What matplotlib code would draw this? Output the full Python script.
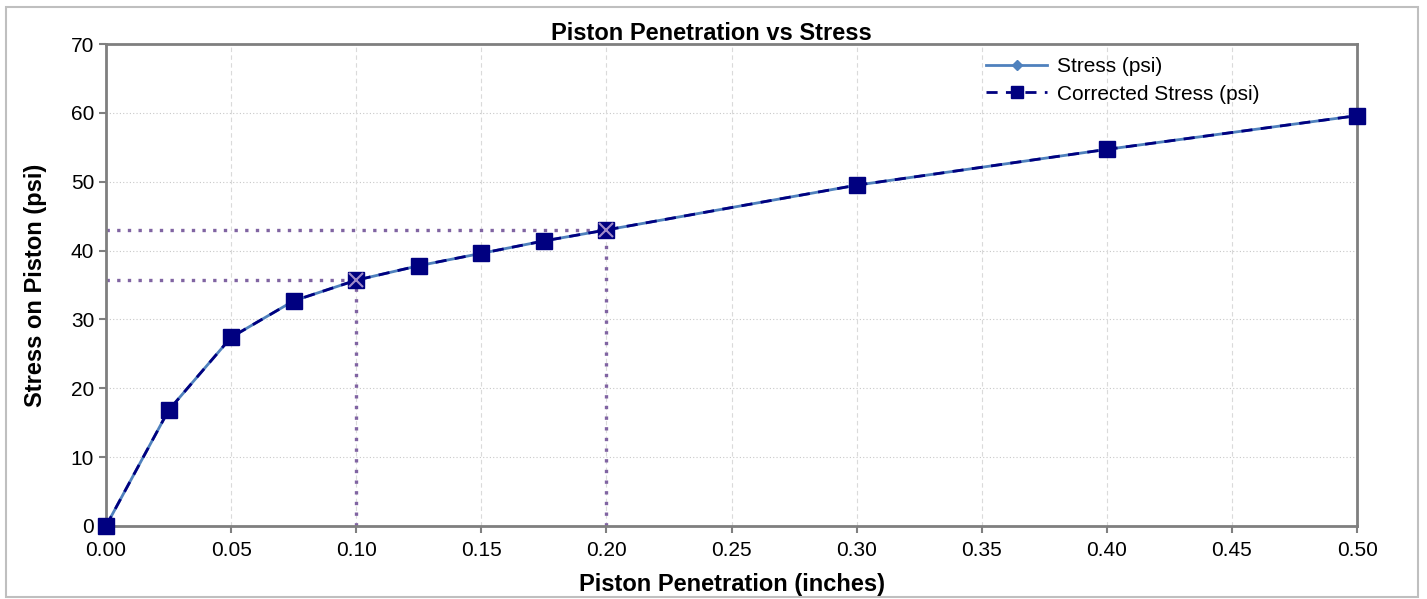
import matplotlib
matplotlib.use("Agg")
import matplotlib.pyplot as plt
from matplotlib.patches import Rectangle

plt.rcParams["font.family"] = ["Liberation Sans", "DejaVu Sans"]

# data
penetration = [0.0, 0.025, 0.05, 0.075, 0.10, 0.125, 0.15, 0.175, 0.20, 0.30, 0.40, 0.50]
stress = [0.0, 16.8, 27.4, 32.7, 35.7, 37.8, 39.6, 41.4, 43.0, 49.5, 54.7, 59.6]
corrected = [0.0, 16.8, 27.4, 32.7, 35.7, 37.8, 39.6, 41.4, 43.0, 49.5, 54.7, 59.6]
ref_x = [0.10, 0.20]
ref_y = [35.7, 43.0]

C_STRESS = "#4F81BD"
C_CORR = "#000080"
C_REF = "#8064A2"
C_SPINE = "#7F7F7F"

fig = plt.figure(figsize=(14.27, 5.99), dpi=100, facecolor="white")
fig.patches.append(Rectangle((0.004, 0.004), 0.99, 0.985, transform=fig.transFigure,
                             fill=False, edgecolor="#BFBFBF", linewidth=1.5))

ax = fig.add_axes([0.0743, 0.1219, 0.8767, 0.8046])

ax.set_xlim(0, 0.5)
ax.set_ylim(0, 70)
ax.set_xticks([i * 0.05 for i in range(11)])
ax.set_xticklabels([f"{i * 0.05:.2f}" for i in range(11)])
ax.set_yticks(range(0, 71, 10))

# grid
for v in range(10, 71, 10):
    ax.axhline(v, color="#C8C8C8", linestyle=(0, (1, 2)), linewidth=0.8, zorder=0)
for i in range(1, 11):
    ax.axvline(i * 0.05, color="#DADADA", linestyle=(0, (4, 3)), linewidth=0.8, zorder=0)

# reference dotted lines
for xr, yr in zip(ref_x, ref_y):
    ax.plot([0, xr], [yr, yr], color=C_REF, linestyle=(0, (1, 2.2)), linewidth=2.4, zorder=2)
    ax.plot([xr, xr], [0, yr], color=C_REF, linestyle=(0, (1, 2.2)), linewidth=2.4, zorder=2)

ax.plot(penetration, stress, color=C_STRESS, linewidth=2, marker="D", markersize=6,
        label="Stress (psi)", zorder=3, clip_on=False)
ax.plot(penetration, corrected, color=C_CORR, linewidth=2, linestyle=(0, (4, 3)),
        marker="s", markersize=11, label="Corrected Stress (psi)", zorder=4, clip_on=False)
ax.plot(ref_x, ref_y, linestyle="none", marker="x", markersize=10, markeredgewidth=1.5,
        color="#A08CC8", zorder=5)

for s in ax.spines.values():
    s.set_color(C_SPINE)
    s.set_linewidth(2)

ax.tick_params(axis="both", labelsize=15, color=C_SPINE, width=1.5, length=5, direction="out")
ax.tick_params(axis="x", pad=6)

ax.set_xlabel("Piston Penetration (inches)", fontsize=17, fontweight="bold", labelpad=9)
ax.set_ylabel("Stress on Piston (psi)", fontsize=17, fontweight="bold", labelpad=17)

fig.text(711 / 1427, 1 - 33 / 599, "Piston Penetration vs Stress", fontsize=17,
         fontweight="bold", ha="center", va="center")

leg = ax.legend(loc="upper left", bbox_to_anchor=(0.697, 0.99), frameon=False,
                fontsize=15, handlelength=2.9, handletextpad=0.5,
                labelspacing=0.4, borderaxespad=0)
leg.legend_handles[1].set_markersize(8)
leg.legend_handles[0].set_markersize(5)

fig.savefig("out.png", dpi=100, facecolor="white")
